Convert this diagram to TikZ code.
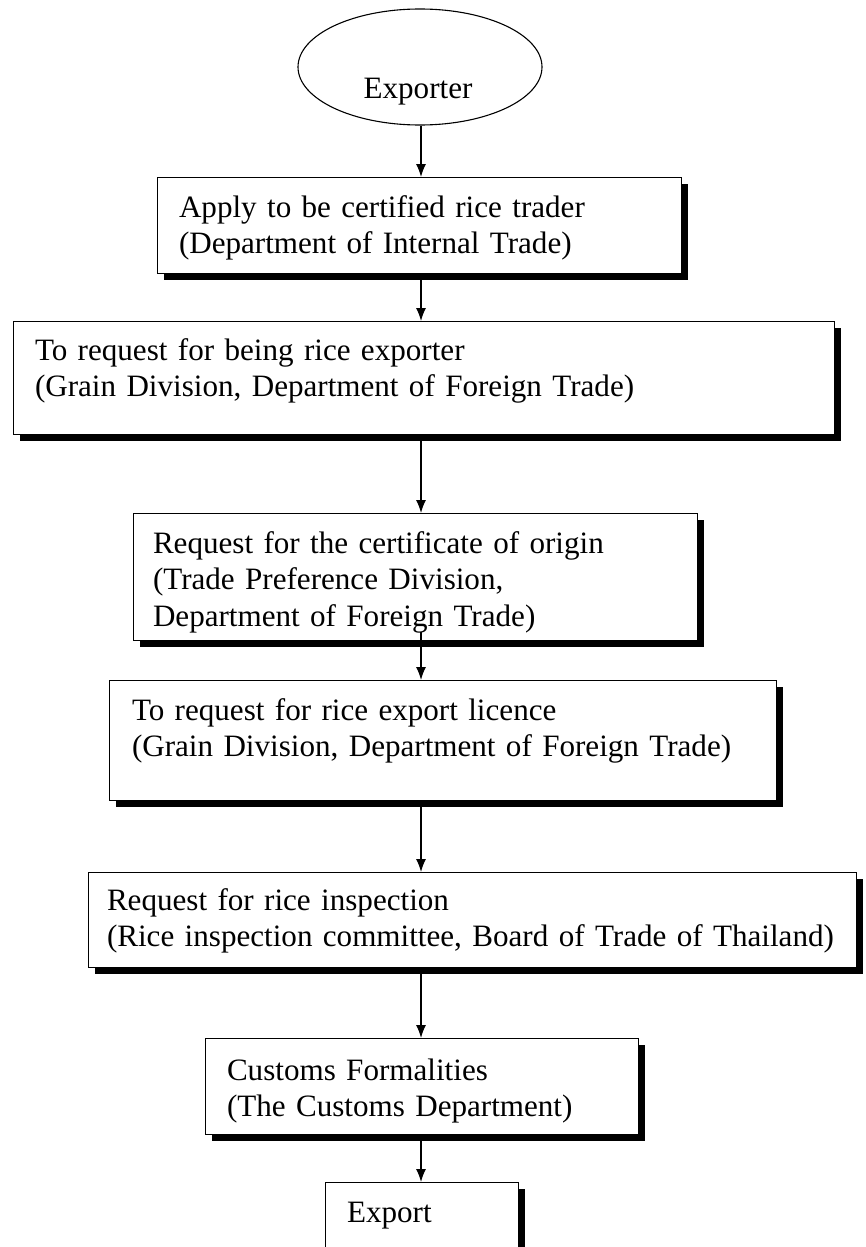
\documentclass[tikz,border=0pt]{standalone}
\usepackage{fontspec}
\setmainfont{Liberation Serif}
\usetikzlibrary{shapes.geometric,shadows,arrows.meta}
\begin{document}
\begin{tikzpicture}[x=1pt,y=-1pt,
  txt/.style={font=\fontsize{31.1}{36.5}\selectfont},
  stepbox/.style={txt, draw, line width=0.9pt, fill=white, rectangle, inner ysep=0pt, align=left, anchor=north,
    drop shadow={shadow xshift=6.5pt, shadow yshift=-6.5pt, fill=black, opacity=1}},
  startnode/.style={draw, ellipse, line width=1.1pt, minimum width=244pt, minimum height=116pt, inner sep=0pt},
  flow/.style={line width=1.3pt, -{Latex[length=13pt,width=10pt]}}]
\useasboundingbox (0,0) rectangle (866,1247);
\fill[white] (0,0) rectangle (866,1247);

\node[startnode] (ex) at (420,67) {};
\node[txt, anchor=base, inner sep=0pt] (exlbl) at (418,99) {Exporter};

\node[stepbox, inner xsep=22pt, text width=480pt, text height=40pt, text depth=56pt] (b1) at (419,177)
  {Apply to be certified rice trader\\(Department of Internal Trade)};
\node[stepbox, inner xsep=22pt, text width=777pt, text height=39pt, text depth=74pt] (b2) at (423.5,321)
  {To request for being rice exporter\\(Grain Division, Department of Foreign Trade)};
\node[stepbox, inner xsep=20pt, text width=524pt, text height=40pt, text depth=87pt] (b3) at (415,513)
  {Request for the certificate of origin\\(Trade Preference Division,\\Department of Foreign Trade)};
\node[stepbox, inner xsep=23pt, text width=621pt, text height=40pt, text depth=80pt] (b4) at (442.5,680)
  {To request for rice export licence\\(Grain Division, Department of Foreign Trade)};
\node[stepbox, inner xsep=19pt, text width=730pt, text height=38pt, text depth=57pt] (b5) at (472,872)
  {Request for rice inspection\\\mbox{(Rice inspection committee, Board of Trade of Thailand)}};
\node[stepbox, inner xsep=22pt, text width=389pt, text height=42pt, text depth=54pt] (b6) at (421.5,1038)
  {Customs Formalities\\(The Customs Department)};
\node[stepbox, inner xsep=22pt, text width=149pt, text height=40pt, text depth=40pt] (b7) at (421.5,1182)
  {Export};

\coordinate (ax) at (421,0);
\draw[flow] (ex.south -| ax) -- (b1.north -| ax);
\draw[flow] (b1.south -| ax) -- (b2.north -| ax);
\draw[flow] (b2.south -| ax) -- (b3.north -| ax);
\draw[flow] ([yshift=9pt]b3.south -| ax) -- (b4.north -| ax);
\draw[flow] (b4.south -| ax) -- (b5.north -| ax);
\draw[flow] (b5.south -| ax) -- (b6.north -| ax);
\draw[flow] (b6.south -| ax) -- (b7.north -| ax);
\end{tikzpicture}
\end{document}
